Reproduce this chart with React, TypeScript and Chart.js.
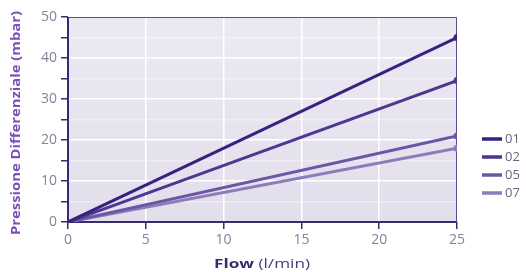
import React, { useEffect, useRef } from "react";
import { Chart, registerables } from "chart.js";

Chart.register(...registerables);

const flow = [0, 25];
const s01 = [0, 45];
const s02 = [0, 34.5];
const s05 = [0, 21];
const s07 = [0, 18];
const seriesNames = ["01", "02", "05", "07"];
const seriesColors = ["#3a2080", "#4f3690", "#6c56a3", "#8e7cba"];
const xTicks = [0, 5, 10, 15, 20, 25];
const yTitle = "Pressione Differenziale (mbar)";
const xTitleBold = "Flow";
const xTitleRest = " (l/min)";

const FONT = "'Open Sans', 'DejaVu Sans', sans-serif";

export default function App() {
  const ref = useRef<HTMLCanvasElement>(null);
  useEffect(() => {
    document.body.style.margin = "0";
    const values = [s01, s02, s05, s07];
    const deco = {
      id: "deco",
      beforeDraw(chart: any) {
        const { ctx, chartArea: a } = chart;
        ctx.save();
        ctx.fillStyle = "#ffffff";
        ctx.fillRect(0, 0, chart.width, chart.height);
        const g = ctx.createLinearGradient(0, a.top, 0, a.bottom);
        g.addColorStop(0, "#ebe9f2");
        g.addColorStop(1, "#e2dfec");
        ctx.fillStyle = g;
        ctx.fillRect(a.left, a.top, a.right - a.left, a.bottom - a.top);
        ctx.restore();
      },
      beforeDatasetsDraw(chart: any) {
        const { ctx, chartArea: a } = chart;
        ctx.save();
        ctx.strokeStyle = "#5a4a8a";
        ctx.lineWidth = 1;
        ctx.beginPath();
        ctx.moveTo(a.left, a.top + 0.5);
        ctx.lineTo(a.right - 0.5, a.top + 0.5);
        ctx.lineTo(a.right - 0.5, a.bottom);
        ctx.stroke();
        ctx.strokeStyle = "#3a2a6e";
        ctx.lineWidth = 2;
        ctx.beginPath();
        ctx.moveTo(a.left, a.top);
        ctx.lineTo(a.left, a.bottom);
        ctx.lineTo(a.right, a.bottom);
        ctx.stroke();
        ctx.restore();
      },
      afterDraw(chart: any) {
        const { ctx } = chart;
        ctx.save();
        // y title
        ctx.translate(16, 123);
        ctx.rotate(-Math.PI / 2);
        ctx.fillStyle = "#7a4fb6";
        ctx.font = `bold 12.5px ${FONT}`;
        const tw = ctx.measureText(yTitle).width;
        ctx.scale(224 / tw, 1);
        ctx.textAlign = "center";
        ctx.textBaseline = "middle";
        ctx.fillText(yTitle, 0, 0);
        ctx.restore();
        // x title
        ctx.save();
        ctx.textBaseline = "alphabetic";
        ctx.font = `bold 13px ${FONT}`;
        const w1 = ctx.measureText(xTitleBold).width;
        ctx.font = `13px ${FONT}`;
        const w2 = ctx.measureText(xTitleRest).width;
        const x0 = 214;
        const sx = 96 / (w1 + w2);
        ctx.translate(x0, 268);
        ctx.scale(sx, 1);
        ctx.fillStyle = "#3a2a6e";
        ctx.font = `bold 13px ${FONT}`;
        ctx.fillText(xTitleBold, 0, 0);
        ctx.font = `13px ${FONT}`;
        ctx.fillStyle = "#4a3a7a";
        ctx.fillText(xTitleRest, w1, 0);
        ctx.restore();
        // legend
        ctx.save();
        chart.data.datasets.forEach((ds: any, i: number) => {
          const y = 139 + i * 18;
          ctx.strokeStyle = ds.borderColor;
          ctx.lineWidth = 3.5;
          ctx.beginPath();
          ctx.moveTo(482, y);
          ctx.lineTo(502, y);
          ctx.stroke();
          ctx.fillStyle = "#6a6680";
          ctx.font = `13px ${FONT}`;
          ctx.textBaseline = "middle";
          ctx.fillText(ds.label, 505, y + 0.5);
        });
        ctx.restore();
      },
    };
    const chart = new Chart(ref.current!, {
      type: "line",
      data: {
        labels: flow,
        datasets: values.map((v, i) => ({
          label: seriesNames[i],
          data: flow.map((x, j) => ({ x, y: v[j] })),
          borderColor: seriesColors[i],
          backgroundColor: seriesColors[i],
          borderWidth: 3,
          pointRadius: (c: any) => (c.dataIndex === flow.length - 1 ? 3.5 : 0),
          pointBorderWidth: 0,
          tension: 0,
        })),
      },
      options: {
        animation: false,
        responsive: false,
        maintainAspectRatio: false,
        layout: { padding: { top: 17, right: 69, left: 0, bottom: 0 } },
        plugins: { legend: { display: false }, tooltip: { enabled: false } },
        scales: {
          x: {
            type: "linear",
            min: 0,
            max: 25,
            afterBuildTicks: (s: any) => {
              s.ticks = xTicks.map((v) => ({ value: v }));
            },
            afterFit: (s: any) => {
              s.height = 50;
            },
            border: { display: false },
            grid: {
              color: "#ffffff",
              lineWidth: 1.5,
              tickColor: "#3a2a6e",
              tickLength: 7,
              drawOnChartArea: true,
            },
            ticks: {
              color: "#858395",
              font: { family: FONT, size: 14 },
              padding: 3,
            },
          },
          y: {
            min: 0,
            max: 50,
            afterBuildTicks: (s: any) => {
              const t = [];
              for (let v = 0; v <= 50; v += 5) t.push({ value: v });
              s.ticks = t;
            },
            afterFit: (s: any) => {
              s.width = 68;
            },
            border: { display: false },
            grid: {
              color: (c: any) =>
                c.tick && c.tick.value % 10 === 0 ? "#ffffff" : "rgba(255,255,255,0.35)",
              lineWidth: 1.5,
              tickColor: "#3a2a6e",
              tickLength: 7,
            },
            ticks: {
              color: "#858395",
              font: { family: FONT, size: 14 },
              padding: 4,
              callback: (v: any) => (Number(v) % 10 === 0 ? String(v) : ""),
            },
          },
        },
      },
      plugins: [deco],
    });
    return () => chart.destroy();
  }, []);
  return <canvas ref={ref} width={526} height={272} style={{ display: "block" }} />;
}
